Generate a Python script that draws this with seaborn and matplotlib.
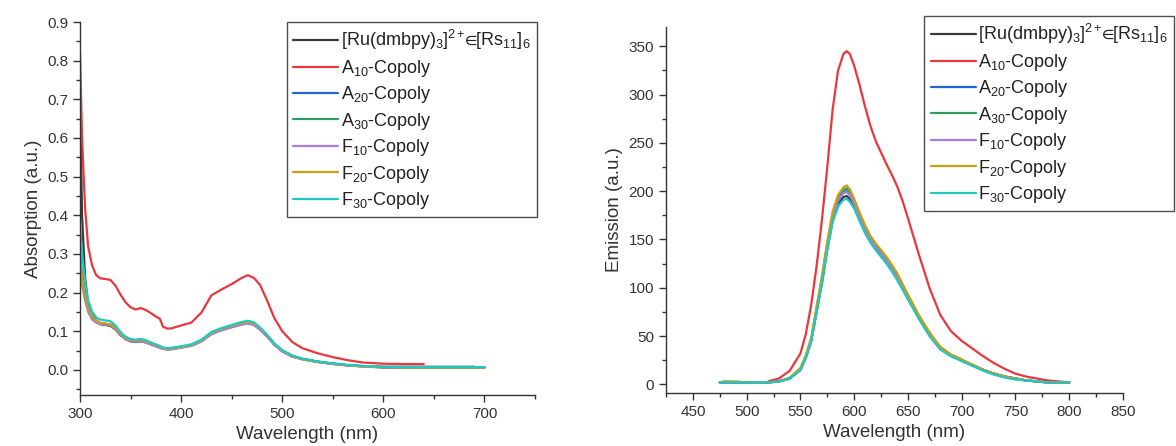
import numpy as np
import pandas as pd
import matplotlib
matplotlib.use("Agg")
import matplotlib.pyplot as plt
import seaborn as sns
from matplotlib.ticker import MultipleLocator

sns.set_style("ticks")
plt.rcParams['font.family'] = ['Liberation Sans', 'DejaVu Sans']
plt.rcParams['mathtext.fontset'] = 'custom'
plt.rcParams['mathtext.rm'] = 'Liberation Sans'
plt.rcParams['mathtext.it'] = 'Liberation Sans'
plt.rcParams['mathtext.fallback'] = 'stixsans'

N = np.nan
series_labels = [
    r'[Ru(dmbpy)$_3$]$^{2+}\!\!\in\!\!$[Rs$_{11}$]$_6$',
    r'A$_{10}$-Copoly', r'A$_{20}$-Copoly', r'A$_{30}$-Copoly',
    r'F$_{10}$-Copoly', r'F$_{20}$-Copoly', r'F$_{30}$-Copoly',
]
series_colors = ['#3a3a3a', '#e8383d', '#2166d0', '#2e9e5e', '#a77ee0', '#c9a010', '#1fc8c4']

# ---------------- Absorption ----------------
abs_wl = [300, 302, 305, 308, 312, 316, 320, 325, 330, 335, 340, 345, 350, 355, 360, 365,
          370, 375, 379, 382, 386, 390, 400, 410, 420, 430, 440, 450, 460, 466, 472, 478,
          485, 492, 500, 510, 520, 535, 550, 565, 580, 600, 620, 640, 660, 680, 690, 700]
abs_ref = [.71, .40, .24, .17, .14, .125, .118, .116, .114, .105, .090, .080, .074, .072, .074, .071,
           .066, .062, .058, .055, .053, .054, .058, .063, .074, .094, .104, .111, .118, .121, .117, .105,
           .087, .066, .048, .035, .028, .021, .016, .012, .010, .008, .008, .008, .008, .008, .008, N]
abs_a10 = [.82, .60, .42, .32, .27, .245, .237, .235, .233, .218, .195, .175, .162, .156, .160, .155,
           .147, .138, .132, .112, .107, .107, .115, .122, .148, .193, .208, .222, .238, .245, .238, .220,
           .180, .135, .100, .072, .056, .043, .033, .025, .019, .016, .015, .015, N, N, N, N]
abs_a20 = [.30, .25, .20, .165, .14, .128, .121, .119, .117, .107, .092, .081, .075, .073, .075, .072,
           .067, .062, .058, .055, .054, .054, .058, .064, .075, .095, .105, .113, .120, .123, .119, .107,
           .088, .067, .049, .035, .028, .021, .016, .012, .009, .006, .006, .006, .006, .006, .006, .006]
abs_a30 = [.28, .24, .19, .16, .137, .126, .120, .118, .117, .108, .093, .082, .076, .075, .077, .073,
           .068, .063, .059, .056, .055, .055, .059, .064, .076, .096, .106, .114, .121, .124, .120, .108,
           .089, .068, .050, .036, .028, .021, .016, .012, .009, .007, .006, .006, .006, .006, .006, .006]
abs_f10 = [.26, .22, .18, .15, .13, .122, .118, .117, .116, .106, .091, .080, .074, .073, .074, .071,
           .066, .061, .057, .054, .053, .053, .057, .062, .073, .092, .102, .110, .117, .120, .116, .104,
           .086, .065, .048, .034, .027, .020, .015, .011, .009, .007, .006, .006, .006, .006, .006, .006]
abs_f20 = [.29, .24, .19, .16, .138, .127, .121, .120, .118, .109, .094, .083, .077, .076, .078, .074,
           .069, .064, .060, .056, .055, .055, .059, .064, .076, .096, .106, .114, .121, .124, .120, .108,
           .089, .068, .050, .036, .028, .021, .016, .012, .009, .007, .006, .006, .006, .006, .006, .006]
abs_f30 = [.37, .30, .23, .18, .15, .136, .130, .128, .126, .115, .098, .086, .080, .078, .080, .077,
           .071, .066, .062, .058, .056, .057, .061, .066, .078, .098, .108, .116, .124, .127, .123, .110,
           .091, .069, .051, .037, .029, .022, .017, .013, .010, .008, .007, .007, .007, .007, .007, .007]
abs_series = [abs_ref, abs_a10, abs_a20, abs_a30, abs_f10, abs_f20, abs_f30]

# ---------------- Emission ----------------
em_wl = [475, 480, 490, 500, 510, 520, 530, 540, 550, 555, 560, 565, 570, 575, 580, 585, 590, 593, 596,
         600, 605, 610, 615, 620, 625, 630, 635, 640, 645, 650, 660, 670, 680, 690, 700, 710, 720, 730,
         740, 750, 760, 770, 780, 790, 800]
em_a10 = [N, N, N, N, N, 3, 6, 14, 32, 52, 82, 122, 170, 225, 285, 325, 342, 345, 342,
          330, 310, 288, 268, 252, 240, 228, 217, 205, 190, 172, 135, 100, 72, 55, 45, 37, 29, 22,
          16, 11, 8, 6, 4, 3, 2]
em_ref = [2, 2, 2, 2, 2, 2, 3, 6, 15, 28, 45, 75, 105, 140, 170, 186, 194, 195, 192,
          184, 171, 158, 148, 140, 133, 126, 118, 109, 99, 89, 69, 51, 37, 30, 25, 20, 15, 11,
          8, 6, 4, 3, 2, 2, 2]
em_a20 = [2, 2, 2, 2, 2, 2, 3, 6, 15, 28, 45, 76, 107, 143, 173, 190, 199, 200, 196,
          187, 173, 160, 150, 142, 135, 128, 120, 111, 100, 90, 70, 52, 38, 30, 25, 20, 15, 11,
          8, 6, 4, 3, 2, 2, 2]
em_a30 = [2, 3, 2, 2, 2, 2, 3, 6, 16, 29, 47, 78, 110, 146, 176, 193, 201, 203, 199,
          189, 175, 162, 152, 144, 137, 130, 122, 113, 102, 92, 71, 53, 38, 30, 25, 20, 15, 11,
          8, 6, 4, 3, 2, 2, 2]
em_f10 = [2, 2, 2, 2, 2, 2, 3, 6, 15, 28, 46, 77, 108, 144, 174, 191, 198, 199, 196,
          187, 173, 160, 150, 142, 135, 128, 120, 111, 100, 90, 70, 52, 38, 30, 25, 20, 15, 11,
          8, 6, 4, 3, 2, 2, 2]
em_f20 = [2, 3, 3, 2, 2, 2, 3, 7, 17, 30, 48, 80, 112, 148, 179, 196, 204, 206, 202,
          192, 178, 165, 154, 146, 139, 132, 124, 115, 104, 93, 72, 54, 39, 31, 26, 20, 15, 11,
          8, 6, 4, 3, 2, 2, 2]
em_f30 = [2, 2, 2, 2, 2, 2, 3, 6, 15, 27, 44, 74, 104, 139, 168, 184, 191, 192, 189,
          182, 169, 157, 147, 139, 132, 125, 117, 108, 98, 88, 68, 50, 36, 29, 24, 19, 14, 10,
          7, 5, 4, 3, 2, 2, 2]
em_series = [em_ref, em_a10, em_a20, em_a30, em_f10, em_f20, em_f30]

fig = plt.figure(figsize=(11.76, 4.46), dpi=100)
ax1 = fig.add_axes([80/1176, 1-395/446, 455/1176, 373/446])
ax2 = fig.add_axes([666/1176, 1-393/446, 457/1176, 366/446])

for ys, lab, col in zip(abs_series, series_labels, series_colors):
    df = pd.DataFrame({'wl': abs_wl, 'val': ys}).dropna()
    sns.lineplot(data=df, x='wl', y='val', ax=ax1, color=col, label=lab, linewidth=1.6)
for ys, lab, col in zip(em_series, series_labels, series_colors):
    df = pd.DataFrame({'wl': em_wl, 'val': ys}).dropna()
    sns.lineplot(data=df, x='wl', y='val', ax=ax2, color=col, label=lab, linewidth=1.6)

ax1.set_xlim(300, 750)
ax1.set_ylim(-0.065, 0.9)
ax1.xaxis.set_minor_locator(MultipleLocator(50))
ax1.yaxis.set_minor_locator(MultipleLocator(0.05))
ax1.set_xticks([300, 400, 500, 600, 700])
ax1.set_yticks([0.0, 0.1, 0.2, 0.3, 0.4, 0.5, 0.6, 0.7, 0.8, 0.9])
ax1.yaxis.set_major_formatter(matplotlib.ticker.FormatStrFormatter('%.1f'))
ax1.set_xlabel('Wavelength (nm)', fontsize=13.5, color='#333333')
ax1.set_ylabel('Absorption (a.u.)', fontsize=13.5, color='#333333')

ax2.set_xlim(425, 850)
ax2.set_ylim(-9, 370)
ax2.xaxis.set_minor_locator(MultipleLocator(25))
ax2.yaxis.set_minor_locator(MultipleLocator(25))
ax2.set_xticks([450, 500, 550, 600, 650, 700, 750, 800, 850])
ax2.set_yticks([0, 50, 100, 150, 200, 250, 300, 350])
ax2.set_xlabel('Wavelength (nm)', fontsize=13.5, color='#333333')
ax2.set_ylabel('Emission (a.u.)', fontsize=13.5, color='#333333')

for ax in (ax1, ax2):
    sns.despine(ax=ax)
    for s in ('left', 'bottom'):
        ax.spines[s].set_color('#333333')
        ax.spines[s].set_linewidth(1.0)
    ax.tick_params(which='major', direction='out', length=5, width=1, labelsize=11,
                   colors='#333333')
    ax.tick_params(which='minor', direction='out', length=3, width=1, colors='#333333')

leg_kw = dict(loc='upper left', fontsize=13, frameon=True, fancybox=False,
              edgecolor='#222222', handlelength=2.5, handletextpad=0.15,
              labelspacing=0.3, borderpad=0.35, borderaxespad=0)
leg1 = ax1.legend(bbox_to_anchor=(0.455, 1.0), **leg_kw)
leg2 = ax2.legend(bbox_to_anchor=(0.565, 1.03), **leg_kw)
for leg in (leg1, leg2):
    leg.get_frame().set_linewidth(1.0)
    for t in leg.get_texts():
        t.set_color('#222222')

fig.savefig('out.png', dpi=100)
